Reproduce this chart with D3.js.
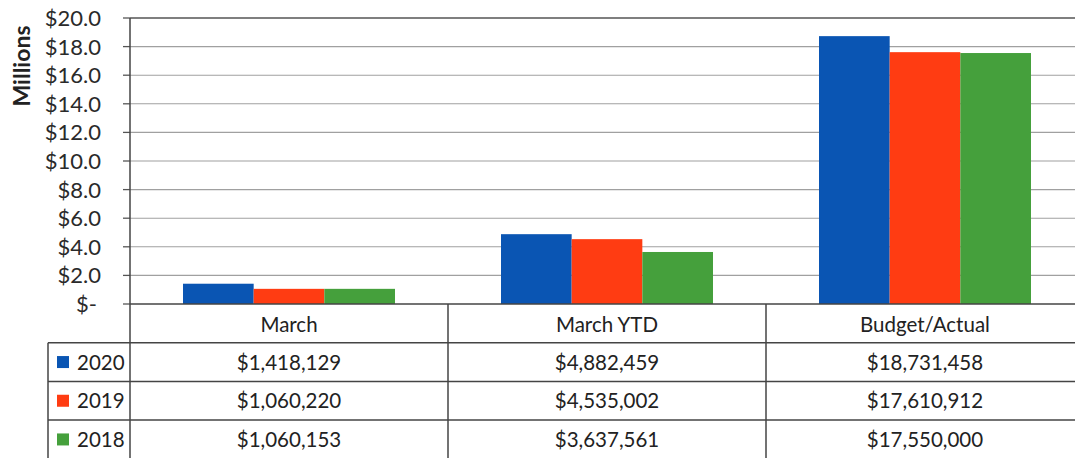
<!DOCTYPE html>
<html><head><meta charset="utf-8">
<script src="https://cdn.jsdelivr.net/npm/d3@7"></script>
<style>html,body{margin:0;padding:0;background:#fff;overflow:hidden}svg{display:block}</style>
</head><body>
<svg id="c" width="1075" height="458"></svg>
<script>
const categories = ["March", "March YTD", "Budget/Actual"];
const series = ["2020", "2019", "2018"];
const values2020 = [1418129, 4882459, 18731458];
const values2019 = [1060220, 4535002, 17610912];
const values2018 = [1060153, 3637561, 17550000];
const yTicks = [0, 2, 4, 6, 8, 10, 12, 14, 16, 18, 20];
const colors = ["#0a55b3", "#ff3c12", "#45a03c"];

(function () {
const allValues = [values2020, values2019, values2018];
const svg = d3.select("#c");
const font = "Lato, 'Open Sans', sans-serif";
const plotLeft = 130, plotRight = 1084, plotTop = 18, zeroY = 304;
const rowH = 38.7, legendX = 48;

const x0 = d3.scaleBand().domain(categories).range([plotLeft, plotRight]).padding(0);
const x1 = d3.scaleBand().domain(series).range([0, x0.bandwidth()]).paddingInner(0).paddingOuter(0.75);
const y = d3.scaleLinear().domain([0, 20]).range([zeroY, plotTop]);

const g = svg.append("g");
g.selectAll("line.grid").data(yTicks.filter(d => d > 0)).join("line")
  .attr("x1", plotLeft).attr("x2", plotRight)
  .attr("y1", d => y(d)).attr("y2", d => y(d))
  .attr("stroke", d => d === 20 ? "#555" : "#a0a0a0")
  .attr("stroke-width", d => d === 20 ? 1.6 : 1.1);
g.selectAll("line.tick").data(yTicks).join("line")
  .attr("x1", plotLeft - 7).attr("x2", plotLeft)
  .attr("y1", d => y(d)).attr("y2", d => y(d))
  .attr("stroke", "#555").attr("stroke-width", 1.3);

svg.append("g").selectAll("text").data(yTicks).join("text")
  .attr("x", d => d === 0 ? 97 : 101).attr("y", d => y(d) + 8)
  .attr("text-anchor", "end")
  .attr("font-family", font).attr("font-size", 22).attr("fill", "#2a2a2a")
  .text(d => d === 0 ? "$-" : "$" + d.toFixed(1));

svg.append("text")
  .attr("transform", "translate(30,66) rotate(-90)")
  .attr("text-anchor", "middle")
  .attr("font-family", font).attr("font-size", 23).attr("font-weight", "bold").attr("fill", "#222")
  .text("Millions");

series.forEach((s, si) => {
  svg.append("g").selectAll("rect").data(categories).join("rect")
    .attr("x", c => x0(c) + x1(s))
    .attr("width", x1.bandwidth())
    .attr("y", (c, ci) => y(allValues[si][ci] / 1e6))
    .attr("height", (c, ci) => zeroY - y(allValues[si][ci] / 1e6))
    .attr("fill", colors[si]);
});

const t = svg.append("g").attr("stroke", "#444").attr("stroke-width", 1.5);
const bottom = zeroY + rowH * 4 + 2;
t.append("line").attr("x1", plotLeft).attr("x2", plotRight).attr("y1", zeroY).attr("y2", zeroY);
t.append("line").attr("x1", plotLeft).attr("x2", plotLeft).attr("y1", plotTop).attr("y2", bottom);
[1, 2, 3].forEach(r => {
  t.append("line").attr("x1", legendX).attr("x2", plotRight)
    .attr("y1", zeroY + rowH * r).attr("y2", zeroY + rowH * r);
});
t.append("line").attr("x1", legendX).attr("x2", legendX).attr("y1", zeroY + rowH).attr("y2", bottom);
categories.forEach(c => {
  t.append("line").attr("x1", x0(c) + x0.bandwidth()).attr("x2", x0(c) + x0.bandwidth())
    .attr("y1", zeroY).attr("y2", bottom);
});

const txt = svg.append("g").attr("font-family", font).attr("font-size", 20.5).attr("fill", "#222");
categories.forEach(c => {
  txt.append("text").attr("x", x0(c) + x0.bandwidth() / 2).attr("y", zeroY + rowH / 2 + 8.5)
    .attr("text-anchor", "middle").text(c);
});
const fmt = d3.format("$,");
series.forEach((s, si) => {
  const cy = zeroY + rowH * (si + 1) + rowH / 2;
  svg.append("rect").attr("x", 57).attr("y", cy - 6).attr("width", 12).attr("height", 12).attr("fill", colors[si]);
  txt.append("text").attr("x", 77).attr("y", cy + 7.5).text(s);
  categories.forEach((c, ci) => {
    txt.append("text").attr("x", x0(c) + x0.bandwidth() / 2).attr("y", cy + 7.5)
      .attr("text-anchor", "middle").text(fmt(allValues[si][ci]));
  });
});
})();
</script>
</body></html>
